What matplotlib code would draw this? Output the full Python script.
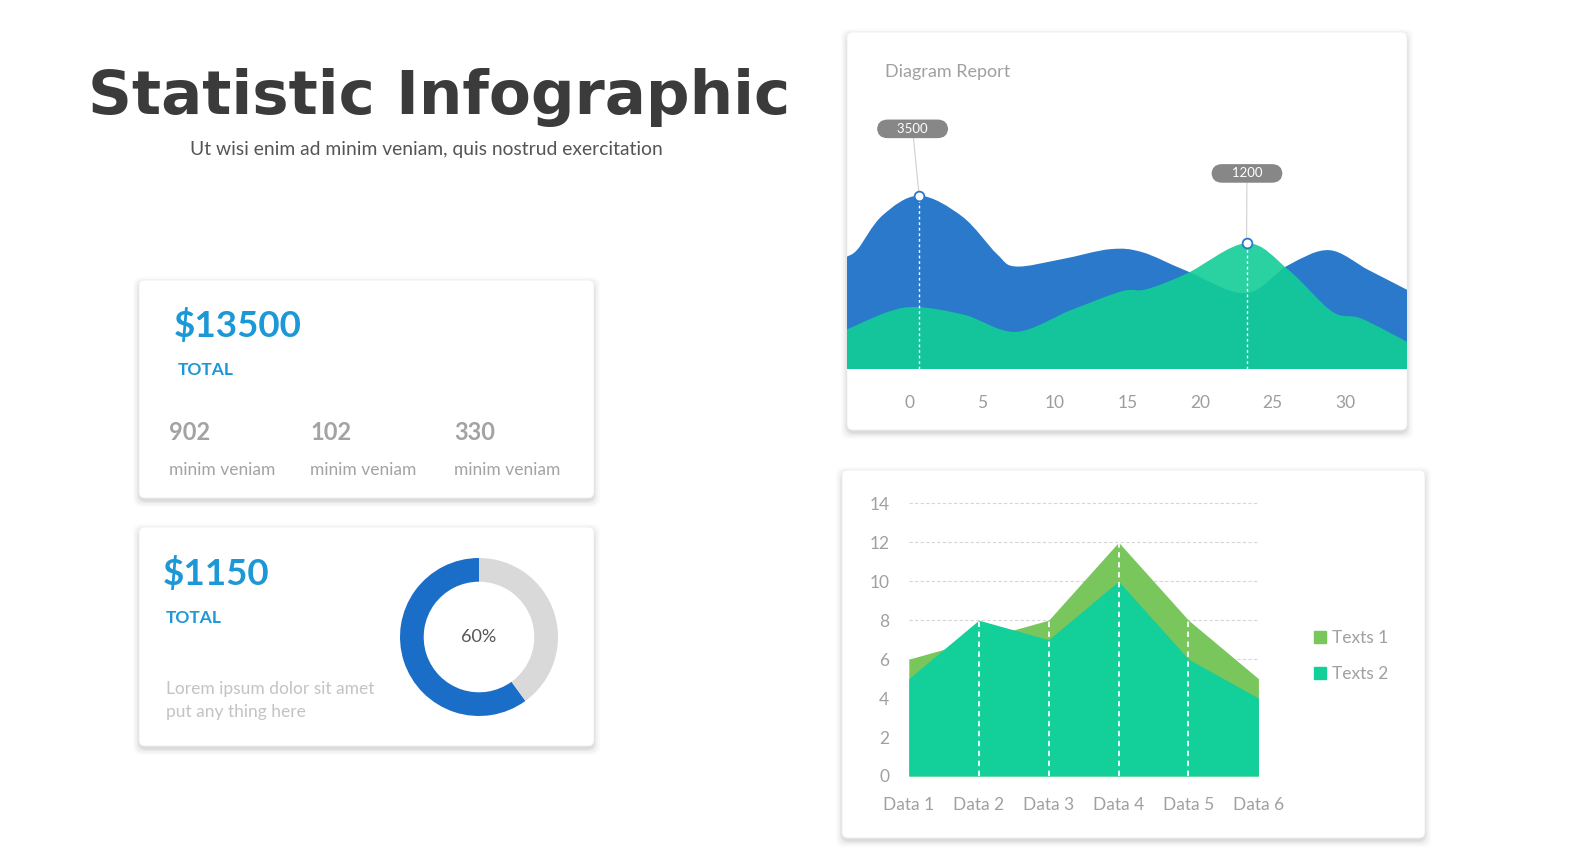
import matplotlib
matplotlib.use("Agg")
import matplotlib.pyplot as plt
import numpy as np
from matplotlib.patches import FancyBboxPatch, PathPatch, Patch
from matplotlib.path import Path

W, H = 1588, 861

# --- data ---
title = "Statistic Infographic"
subtitle = "Ut wisi enim ad minim veniam, quis nostrud exercitation"

total_main = "$13500"
sub_values = ["902", "102", "330"]
sub_label = "minim veniam"
total_second = "$1150"
donut_share = [60, 40]
donut_text = "60%"
lorem = ["Lorem ipsum dolor sit amet", "put any thing here"]

# diagram report (smooth areas)
blue_x = [-4.34, -3.6, -1.9, 0.63, 3.6, 6.0, 7.3, 10.5, 13.8, 16.0, 19.0, 23.1, 26.1, 28.9, 31.6, 34.26]
blue_y = [2270, 2420, 3100, 3500, 3080, 2320, 2070, 2220, 2420, 2360, 1990, 1530, 2100, 2400, 2000, 1600]
green_x = [-4.34, -1.45, 0.55, 3.8, 7.3, 11.1, 14.6, 16.3, 19.1, 23.2, 26.1, 29.1, 31.1, 34.26]
green_y = [800, 1160, 1250, 1090, 750, 1190, 1570, 1610, 1930, 2540, 2000, 1160, 1020, 550]
report_ticks = [0, 5, 10, 15, 20, 25, 30]
callouts = [("3500", 0.18, 4850, 0.63, 3500), ("1200", 23.23, 3950, 23.2, 2540)]

# bottom area chart
categories = ["Data 1", "Data 2", "Data 3", "Data 4", "Data 5", "Data 6"]
texts1 = [6, 7, 8, 12, 8, 5]
texts2 = [5, 8, 7, 10, 6, 4]

BLUE_TXT = "#1b98d5"
GREY_TXT = "#a3a3a3"
FONT = "Lato"

fig = plt.figure(figsize=(W / 100, H / 100), dpi=100)
fig.patch.set_facecolor("white")


def box(x0, y0, x1, y1):
    return [x0 / W, 1 - y1 / H, (x1 - x0) / W, (y1 - y0) / H]


bg = fig.add_axes([0, 0, 1, 1])
bg.set_xlim(0, W)
bg.set_ylim(H, 0)
bg.axis("off")


def card(x0, y0, x1, y1):
    for k, a in [(7, 0.02), (5, 0.03), (3, 0.045), (1.5, 0.05)]:
        bg.add_patch(FancyBboxPatch((x0 - k + 1, y0 - k + 4), x1 - x0 + 2 * k - 2, y1 - y0 + 2 * k - 2,
                                    boxstyle="round,pad=0,rounding_size=8", fc="black", ec="none", alpha=a))
    bg.add_patch(FancyBboxPatch((x0, y0), x1 - x0, y1 - y0, boxstyle="round,pad=0,rounding_size=6",
                                fc="white", ec="#f0f0f0", lw=0.6))


card(139, 280, 594, 498)
card(139, 527, 594, 746)
card(847, 32, 1407, 430)
card(842, 470, 1425, 838)

# title
bg.text(88, 114, title, fontsize=44, fontweight="bold", color="#3b3b3b", family="DejaVu Sans", va="baseline")
bg.text(190, 149, subtitle, fontsize=13.9, color="#555555", family=FONT, va="center")

# card 1
bg.text(174, 325, total_main, fontsize=26.5, fontweight="bold", color=BLUE_TXT, family=FONT, va="center")
bg.text(178, 370, "TOTAL", fontsize=12.5, fontweight="bold", color=BLUE_TXT, family=FONT, va="center")
for xx, v in zip([169, 310, 454], sub_values):
    bg.text(xx, 432, v, fontsize=17, fontweight="bold", color=GREY_TXT, family=FONT, va="center")
    bg.text(xx, 470, sub_label, fontsize=12.5, color=GREY_TXT, family=FONT, va="center")

# card 2
bg.text(163, 573, total_second, fontsize=26.5, fontweight="bold", color=BLUE_TXT, family=FONT, va="center")
bg.text(166, 618, "TOTAL", fontsize=12.5, fontweight="bold", color=BLUE_TXT, family=FONT, va="center")
bg.text(166, 689, lorem[0], fontsize=12.5, color="#c3c3c3", family=FONT, va="center")
bg.text(166, 712, lorem[1], fontsize=12.5, color="#c3c3c3", family=FONT, va="center")

dax = fig.add_axes(box(400, 558, 558, 716))
dax.pie(donut_share, colors=["#1a6ec8", "#d9d9d9"], startangle=90, counterclock=True,
        wedgeprops=dict(width=0.3, edgecolor="none"), radius=1)
dax.set_xlim(-1, 1)
dax.set_ylim(-1, 1)
dax.set_aspect("equal")
dax.text(0, 0, donut_text, ha="center", va="center", fontsize=13, color="#555555", family=FONT)

# diagram report
bg.text(885, 72, "Diagram Report", fontsize=13, color="#a0a0a0", family=FONT, va="center")

units_per_px = 3500 / 173.3
ax1 = fig.add_axes(box(847, 32, 1407, 369))
ax1.set_facecolor("none")
ax1.set_xlim(blue_x[0], blue_x[-1])
ax1.set_ylim(0, (369 - 32) * units_per_px)


def smooth_area(xs, ys):
    pts = np.column_stack([xs, ys]).astype(float)
    n = len(pts)
    verts = [pts[0]]
    codes = [Path.MOVETO]
    for i in range(n - 1):
        p0 = pts[max(i - 1, 0)]
        p1 = pts[i]
        p2 = pts[i + 1]
        p3 = pts[min(i + 2, n - 1)]
        verts += [p1 + (p2 - p0) / 6, p2 - (p3 - p1) / 6, p2]
        codes += [Path.CURVE4] * 3
    verts += [(xs[-1], 0), (xs[0], 0), (xs[0], ys[0])]
    codes += [Path.LINETO, Path.LINETO, Path.CLOSEPOLY]
    return Path(verts, codes)


ax1.add_patch(PathPatch(smooth_area(blue_x, blue_y), fc="#2a79cb", ec="none", zorder=1))
ax1.add_patch(PathPatch(smooth_area(green_x, green_y), fc="#12cd96", ec="none", alpha=0.9, zorder=2))

for lab, lx, ly, mx, my in callouts:
    ax1.plot([lx, mx], [ly, my], color="#d0d0d0", lw=0.8, zorder=3)
    ax1.plot([mx, mx], [0, my], color="white", lw=1, ls=(0, (2, 2)), zorder=3)
    ax1.plot(mx, my, "o", ms=7, mfc="white", mec="#2a79cb", mew=1.3, zorder=5)
    ax1.text(lx, ly, "     " + lab + "     ", ha="center", va="center", fontsize=9.5, color="white", family=FONT,
             zorder=6, bbox=dict(boxstyle="round,pad=0.25,rounding_size=0.8", fc="#878787", ec="none"))

ax1.set_xticks(report_ticks)
ax1.set_xticklabels([str(t) for t in report_ticks], family=FONT, fontsize=12.5, color="#9d9d9d")
ax1.set_yticks([])
ax1.tick_params(axis="x", length=0, pad=19)
for s in ax1.spines.values():
    s.set_visible(False)

# bottom area chart
ax2 = fig.add_axes(box(908.8, 503.3, 1258.4, 776))
ax2.set_facecolor("none")
xs = np.arange(len(categories))
ax2.set_xlim(0, len(categories) - 1)
ax2.set_ylim(0, 14)
ax2.set_yticks(range(0, 15, 2))
for yv in range(2, 15, 2):
    ax2.axhline(yv, color="#d6d6d6", lw=0.8, ls=(0, (3, 2)), zorder=0, clip_on=False)
ax2.fill_between(xs, 0, texts1, color="#79c65c", lw=0, zorder=1)
ax2.fill_between(xs, 0, texts2, color="#13cf9a", lw=0, zorder=2)
tops = np.maximum(texts1, texts2)
ax2.vlines(xs[1:-1], 0, tops[1:-1], colors="white", lw=1.3, linestyles=(0, (3, 2.5)), zorder=3)
ax2.set_xticks(xs)
ax2.set_xticklabels(categories)
ax2.tick_params(length=0, labelsize=12.5, labelcolor="#a0a0a0")
ax2.tick_params(axis="x", pad=15)
ax2.tick_params(axis="y", pad=14)
for lbl in ax2.get_xticklabels() + ax2.get_yticklabels():
    lbl.set_family(FONT)
for s in ax2.spines.values():
    s.set_visible(False)

handles = [Patch(color="#79c65c", label="Texts 1"), Patch(color="#13cf9a", label="Texts 2")]
leg = ax2.legend(handles=handles, loc="center left", bbox_to_anchor=(1298 / W, 1 - 656 / H),
                 bbox_transform=fig.transFigure, frameon=False, handlelength=0.7, handleheight=0.7,
                 handletextpad=0.35, labelspacing=1.15, prop=dict(family=FONT, size=12.5))
for t in leg.get_texts():
    t.set_color("#a0a0a0")

fig.savefig("out.png", dpi=100, facecolor="white")
